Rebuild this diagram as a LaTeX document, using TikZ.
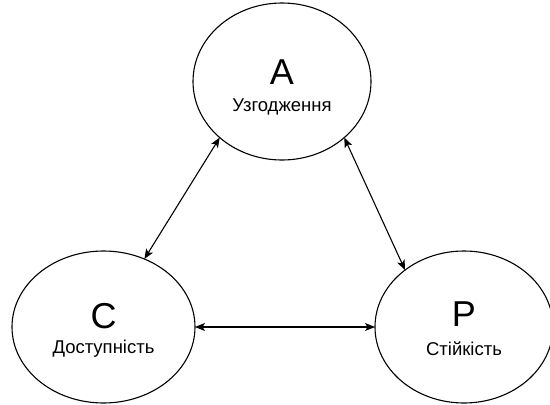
\documentclass[tikz,border=0pt]{standalone}
\usepackage{fontspec}
\setmainfont{Liberation Sans}
\usepackage{xcolor}
\usepackage{tikz}
\usetikzlibrary{arrows.meta,positioning,shapes.geometric}
\definecolor{ink}{HTML}{000000}
\tikzset{
  >={Stealth[length=10pt,width=8pt,inset=2.5pt]},
  bubble/.style={ellipse,draw=ink,line width=1.1pt,fill=white,inner sep=0pt,outer sep=0pt},
  letter/.style={font=\fontsize{36}{40}\selectfont,text=ink,inner sep=0pt},
  caption/.style={font=\fontsize{18.5}{21}\selectfont,text=ink,inner sep=0pt},
  link/.style={<->,line width=1.1pt,color=ink},
}

\begin{document}
\begin{tikzpicture}[x=1pt,y=-1pt]
  \useasboundingbox (0,0) rectangle (550,405);
  \node[bubble,minimum width=178pt,minimum height=157pt] (A) at (282,81.5) {};
  \node[bubble,minimum width=183pt,minimum height=152pt] (C) at (103.5,327) {};
  \node[bubble,minimum width=178pt,minimum height=152pt] (P) at (464,327) {};
  \node[letter] (Aname) at ([yshift=9pt]A.center) {A};
  \node[caption] (Atext) at ([yshift=-25pt]A.center) {Узгодження};
  \node[letter] (Cname) at ([yshift=11pt]C.center) {C};
  \node[caption] (Ctext) at ([yshift=-22pt]C.center) {Доступність};
  \node[letter] (Pname) at ([yshift=13pt]P.center) {P};
  \node[caption] (Ptext) at ([yshift=-22pt]P.center) {Стійкість};
  \draw[link] (A.222.6) -- (C.59.5);
  \draw[link] (A.318.2) -- (P.136.9);
  \draw[link] (C.east) -- (P.west);
\end{tikzpicture}
\end{document}
